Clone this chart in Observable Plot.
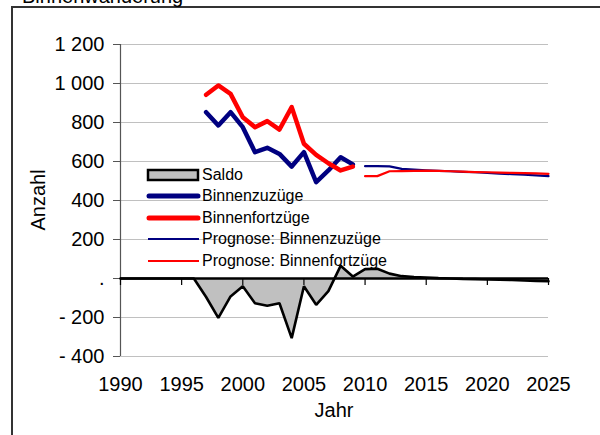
<!DOCTYPE html>
<html>
<head>
<meta charset="utf-8">
<script src="https://cdn.jsdelivr.net/npm/d3@7"></script>
<script src="https://cdn.jsdelivr.net/npm/@observablehq/plot@0.6"></script>
<style>
  html, body { margin: 0; padding: 0; background: #fff; overflow: hidden; }
  body { width: 600px; height: 435px; position: relative; font-family: "Liberation Sans", Arial, sans-serif; }
  #frame { position: absolute; left: 11px; top: 6px; width: 700px; height: 600px; border: 2px solid #333; box-sizing: border-box; }
  #title { position: absolute; left: 22px; top: -15px; font-size: 20px; color: #000; white-space: nowrap; }
  #chart { position: absolute; left: 0; top: 0; }
  .ylab { position: absolute; left: 38px; top: 200px; transform: translate(-50%, -50%) rotate(-90deg); font-size: 20px; white-space: nowrap; }
  .xlab { position: absolute; left: 334px; top: 410px; transform: translate(-50%, -50%); font-size: 20px; white-space: nowrap; }
  #legend { position: absolute; left: 146px; top: 164px; font-size: 16px; }
  #legend .row { display: flex; align-items: center; height: 21.5px; }
  #legend svg { width: 56px; height: 14px; margin-right: 0px; }
</style>
</head>
<body>
<div id="frame"></div>
<div id="title">Binnenwanderung</div>
<div id="chart"></div>
<div class="ylab">Anzahl</div>
<div class="xlab">Jahr</div>
<div id="legend"></div>
<script>
// ---- data ----
const histYears = [1997, 1998, 1999, 2000, 2001, 2002, 2003, 2004, 2005, 2006, 2007, 2008, 2009];
const binnenzuzuege = [853, 785, 853, 776, 648, 670, 639, 574, 648, 494, 554, 622, 585];
const binnenfortzuege = [942, 990, 947, 827, 776, 807, 764, 879, 691, 634, 591, 554, 574];

const progYears = [2010, 2011, 2012, 2013, 2014, 2015, 2016, 2017, 2018, 2019, 2020, 2021, 2022, 2023, 2024, 2025];
const progZuzuege = [576, 576, 575, 562, 558, 555, 552, 550, 547, 545, 542, 538, 535, 532, 529, 525];
const progFortzuege = [525, 525, 550, 551, 552, 553, 552, 550, 548, 546, 545, 543, 542, 540, 539, 537];

const saldoYears = [1990, 1991, 1992, 1993, 1994, 1995, 1996, 1997, 1998, 1999, 2000, 2001, 2002, 2003, 2004, 2005, 2006, 2007,
  2008, 2009, 2010, 2011, 2012, 2013, 2014, 2015, 2016, 2017, 2018, 2019, 2020, 2021, 2022, 2023, 2024, 2025];
const saldo = [0, 0, 0, 0, 0, 0, 0, -95, -202, -92, -40, -127, -140, -127, -306, -40, -135, -65,
  65, 10, 48, 50, 25, 12, 8, 5, 2, 0, -2, -3, -5, -6, -8, -10, -12, -14];

const xTicks = [1990, 1995, 2000, 2005, 2010, 2015, 2020, 2025];
const yTicks = [-400, -200, 0, 200, 400, 600, 800, 1000, 1200];

const seriesNames = ["Saldo", "Binnenzuzüge", "Binnenfortzüge", "Prognose: Binnenzuzüge", "Prognose: Binnenfortzüge"];
const blue = "#000080", red = "#ff0000";

// ---- tables ----
const hist = histYears.map((year, i) => ({year, zu: binnenzuzuege[i], fort: binnenfortzuege[i]}));
const prog = progYears.map((year, i) => ({year, zu: progZuzuege[i], fort: progFortzuege[i]}));
const sal = saldoYears.map((year, i) => ({year, v: saldo[i]}));

const yFmt = d => d === 0 ? "." : d < 0 ? "- " + Math.abs(d) : (d >= 1000 ? Math.floor(d / 1000) + " " + String(d % 1000).padStart(3, "0") : String(d));

const chart = Plot.plot({
  width: 600,
  height: 435,
  marginLeft: 120,
  marginRight: 52,
  marginTop: 44,
  marginBottom: 79,
  style: {fontFamily: "'Liberation Sans', Arial, sans-serif", fontSize: "20px", color: "#000", background: "transparent"},
  x: {domain: [1990, 2025], axis: null},
  y: {domain: [-400, 1200], axis: null},
  marks: [
    Plot.gridY(yTicks, {stroke: "#c0c0c0", strokeOpacity: 1, strokeWidth: 1}),
    Plot.axisY(yTicks, {tickSize: 7, tickPadding: 9, tickFormat: yFmt, fontSize: 20, stroke: "#555", label: null}),
    Plot.axisX(xTicks, {tickSize: 0, tickPadding: 20, tickFormat: d => String(d), fontSize: 20, label: null}),
    Plot.ruleX([1990], {y1: -400, y2: 1200, stroke: "#555", strokeWidth: 1.2}),
    Plot.areaY(sal, {x: "year", y: "v", fill: "#c0c0c0"}),
    Plot.ruleX(xTicks, {x: d => d, y1: 0, y2: 0, insetBottom: -7, stroke: "#000", strokeWidth: 1.2}),
    Plot.ruleY([0], {stroke: "#000", strokeWidth: 2.6}),
    Plot.line(sal, {x: "year", y: "v", stroke: "#000", strokeWidth: 2.6, strokeLinejoin: "miter"}),
    Plot.line(hist, {x: "year", y: "zu", stroke: blue, strokeWidth: 4.5, strokeLinejoin: "round", strokeLinecap: "round"}),
    Plot.line(hist, {x: "year", y: "fort", stroke: red, strokeWidth: 4.5, strokeLinejoin: "round", strokeLinecap: "round"}),
    Plot.line(prog, {x: "year", y: "zu", stroke: blue, strokeWidth: 2.2}),
    Plot.line(prog, {x: "year", y: "fort", stroke: red, strokeWidth: 2.2})
  ]
});
document.getElementById("chart").appendChild(chart);

// ---- legend ----
const swatch = [
  `<rect x="2" y="2" width="50" height="10" fill="#c0c0c0" stroke="#000" stroke-width="2.5"/>`,
  `<line x1="3" y1="7" x2="52" y2="7" stroke="${blue}" stroke-width="5" stroke-linecap="round"/>`,
  `<line x1="3" y1="7" x2="52" y2="7" stroke="${red}" stroke-width="5" stroke-linecap="round"/>`,
  `<line x1="2" y1="7" x2="53" y2="7" stroke="${blue}" stroke-width="2.2"/>`,
  `<line x1="2" y1="7" x2="53" y2="7" stroke="${red}" stroke-width="2.2"/>`
];
const leg = document.getElementById("legend");
seriesNames.forEach((name, i) => {
  const row = document.createElement("div");
  row.className = "row";
  row.innerHTML = `<svg viewBox="0 0 56 14">${swatch[i]}</svg><span>${name}</span>`;
  leg.appendChild(row);
});
</script>
</body>
</html>
